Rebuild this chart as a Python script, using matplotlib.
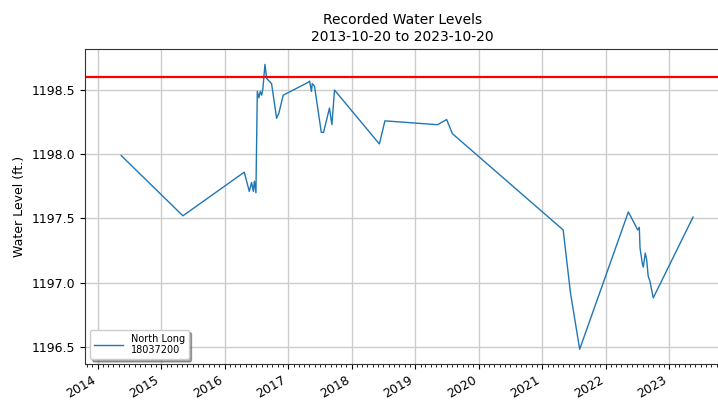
import matplotlib
matplotlib.use('Agg')
import matplotlib.pyplot as plt
import matplotlib.dates as mdates
import numpy as np
import pandas as pd

# data
dates = ['2014-05-16', '2015-05-06', '2016-04-23', '2016-05-22', '2016-06-04',
         '2016-06-14', '2016-06-20', '2016-06-29', '2016-07-07', '2016-07-16',
         '2016-07-24', '2016-08-01', '2016-08-08', '2016-08-20', '2016-08-30',
         '2016-09-27', '2016-10-26', '2016-11-08', '2016-12-03', '2017-04-25',
         '2017-05-04', '2017-05-14', '2017-05-19', '2017-06-01', '2017-07-10',
         '2017-07-23', '2017-08-26', '2017-09-09', '2017-09-24', '2018-06-09',
         '2018-07-11', '2019-05-09', '2019-07-01', '2019-08-03', '2021-05-01',
         '2021-06-12', '2021-08-04', '2022-05-11', '2022-07-04', '2022-07-13',
         '2022-07-17', '2022-07-30', '2022-08-05', '2022-08-11', '2022-08-16',
         '2022-08-24', '2022-09-02', '2022-09-12', '2022-10-01', '2023-05-18']
levels = [1197.99, 1197.52, 1197.86, 1197.71, 1197.78,
          1197.71, 1197.79, 1197.70, 1198.49, 1198.44,
          1198.49, 1198.46, 1198.51, 1198.70, 1198.59,
          1198.55, 1198.28, 1198.32, 1198.46, 1198.56,
          1198.57, 1198.49, 1198.55, 1198.53, 1198.17,
          1198.17, 1198.36, 1198.23, 1198.50, 1198.08,
          1198.26, 1198.23, 1198.27, 1198.16, 1197.41,
          1196.92, 1196.48, 1197.55, 1197.41, 1197.43,
          1197.27, 1197.15, 1197.12, 1197.18, 1197.23,
          1197.18, 1197.05, 1197.01, 1196.88, 1197.51]
threshold = 1198.6
station = 'North Long\n18037200'
start, end = '2013-10-20', '2023-10-20'

x = pd.to_datetime(dates)

fig = plt.figure(figsize=(7.18, 4.0), dpi=100)
ax = fig.add_axes([85 / 718, 36 / 400, 635 / 718, 315 / 400])

ax.plot(x, levels, color='#1f77b4', lw=1.0, label=station)
ax.axhline(threshold, color='red', lw=1.6)

ax.set_xlim(pd.Timestamp(start), pd.Timestamp(end))
ax.set_ylim(1196.365, 1198.82)
ax.set_yticks([1196.5, 1197.0, 1197.5, 1198.0, 1198.5])

ax.xaxis.set_major_locator(mdates.YearLocator())
ax.xaxis.set_major_formatter(mdates.DateFormatter('%Y'))
ax.xaxis.set_minor_locator(mdates.MonthLocator())
for lbl in ax.get_xticklabels():
    lbl.set_rotation(30)
    lbl.set_ha('right')

ax.tick_params(labelsize=9)
ax.grid(True, which='major', color='#cccccc', lw=1.0)
ax.set_axisbelow(True)
for s in ax.spines.values():
    s.set_color('#333333')

ax.set_ylabel('Water Level (ft.)', fontsize=9)
ax.set_title('Recorded Water Levels\n%s to %s' % (start, end), fontsize=10)
ax.legend(loc='lower left', fontsize=7, shadow=True, fancybox=True,
          handlelength=3, labelspacing=0.1)

fig.savefig('out.png', dpi=100)
